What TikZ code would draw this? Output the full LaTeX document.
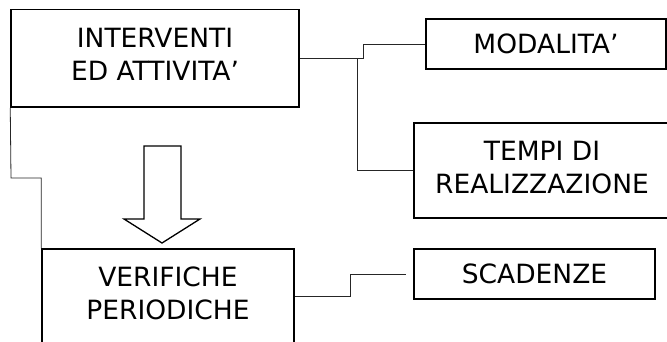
\documentclass[tikz,border=0pt]{standalone}
\usepackage{fontspec}
\setmainfont{DejaVu Sans}
\begin{document}
\begin{tikzpicture}[x=1pt,y=-1pt,
  box/.style={draw=black,line width=1.5pt,inner sep=0pt,align=center,
    font=\fontsize{26.5}{33}\selectfont},
  tallbox/.style={box,text depth=7pt},
  conn/.style={draw=black!85,line width=0.8pt},
  bigarrow/.style={draw=black,line width=1.3pt,fill=white,line join=miter}]
\useasboundingbox[fill=white] (0,0) rectangle (667,342);
\node[tallbox,minimum width=288pt,minimum height=97.5pt] (A) at (155,58.25) {INTERVENTI\\ED ATTIVITA’};
\node[box,minimum width=240pt,minimum height=50pt] (B) at (546,44) {MODALITA’};
\node[tallbox,minimum width=256pt,minimum height=95pt] (C) at (542,170.5) {TEMPI DI\\REALIZZAZIONE};
\node[tallbox,minimum width=252pt,minimum height=95pt] (D) at (168,296.5) {VERIFICHE\\PERIODICHE};
\node[box,minimum width=241pt,minimum height=50pt] (E) at (534.5,274) {SCADENZE};
\coordinate (j1) at (357,58.25);
\coordinate (j2) at (363,58.25);
\coordinate (j3) at (11,178);
\coordinate (j4) at (350,296.5);
\draw[conn] (A.east) -- (j2) |- (B.west);
\draw[conn] (j1) |- (C.west);
\draw[conn] (A.south west) -- (j3) -| (D.north west);
\draw[conn] (D.east) -- (j4) |- ([xshift=-7pt]E.west);
\draw[bigarrow] (144,146) -- (181,146) -- (181,219) -- (200,219) -- (162,243) -- (124,219) -- (144,219) -- cycle;
\end{tikzpicture}
\end{document}
